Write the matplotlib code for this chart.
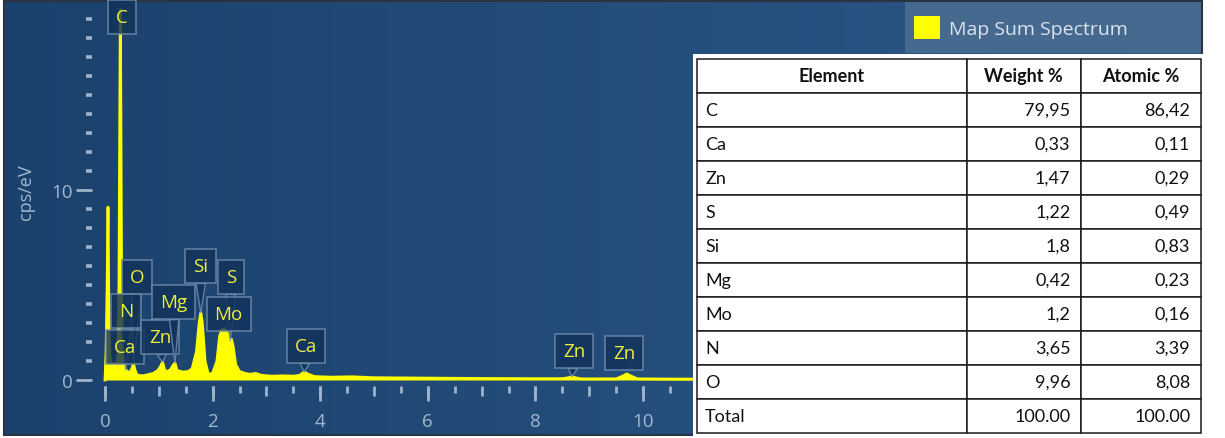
import numpy as np
import matplotlib.pyplot as plt
from matplotlib.patches import Patch, Rectangle

# EDS sum spectrum: energy (keV) vs intensity (cps/eV)
energy = [0.00, 0.02, 0.04, 0.056, 0.07, 0.09, 0.12, 0.16, 0.20, 0.24,
          0.26, 0.275, 0.285, 0.295, 0.31, 0.33, 0.36, 0.40, 0.45, 0.50,
          0.53, 0.56, 0.60, 0.70, 0.80, 0.90, 0.98, 1.03, 1.07, 1.11,
          1.16, 1.22, 1.26, 1.30, 1.34, 1.45, 1.55, 1.62, 1.70, 1.75,
          1.78, 1.81, 1.86, 1.92, 2.00, 2.08, 2.13, 2.17, 2.22, 2.27,
          2.31, 2.35, 2.38, 2.43, 2.50, 2.60, 2.70, 2.80, 2.90, 3.10,
          3.30, 3.50, 3.62, 3.70, 3.78, 3.90, 4.20, 4.60, 5.00, 6.00,
          7.00, 8.00, 8.50, 8.62, 8.68, 8.74, 8.85, 9.50, 9.62, 9.70,
          9.78, 9.90, 10.5, 12.0, 14.0, 17.0, 20.5]
cps = [0.0, 1.5, 5.0, 9.1, 4.0, 1.2, 0.7, 0.9, 0.6, 1.2,
       5.0, 14.0, 19.5, 14.0, 4.0, 1.0, 0.6, 0.5, 0.35, 0.6,
       0.85, 0.5, 0.25, 0.22, 0.28, 0.35, 0.5, 0.7, 0.95, 0.5,
       0.45, 0.55, 0.75, 0.9, 0.5, 0.42, 0.45, 0.6, 1.5, 3.0,
       3.55, 3.0, 1.0, 0.3, 0.35, 1.0, 2.3, 2.65, 2.7, 2.5,
       2.0, 2.15, 1.8, 0.8, 0.45, 0.35, 0.3, 0.35, 0.25, 0.2,
       0.22, 0.2, 0.25, 0.42, 0.3, 0.18, 0.15, 0.17, 0.12, 0.10,
       0.08, 0.07, 0.07, 0.12, 0.18, 0.12, 0.06, 0.06, 0.2, 0.32,
       0.2, 0.06, 0.05, 0.04, 0.04, 0.03, 0.03]

# peak markers: element, peak energy (keV)
peak_names = ['C', 'O', 'N', 'Ca', 'Zn', 'Mg', 'Si', 'S', 'Mo', 'Ca', 'Zn', 'Zn']
peak_energy = [0.285, 0.53, 0.39, 0.34, 1.07, 1.30, 1.78, 2.33, 2.24, 3.70, 8.68, 9.70]
# where each marker box sits (keV, cps/eV)
box_x = [0.316, 0.595, 0.39, 0.372, 1.02, 1.28, 1.78, 2.34, 2.30, 3.74, 8.72, 9.65]
box_y = [19.1, 5.42, 3.63, 1.74, 2.26, 4.10, 6.00, 5.42, 3.47, 1.79, 1.53, 1.42]

# quantification table
elements = ['C', 'Ca', 'Zn', 'S', 'Si', 'Mg', 'Mo', 'N', 'O', 'Total']
weight_pct = ['79,95', '0,33', '1,47', '1,22', '1,8', '0,42', '1,2', '3,65', '9,96', '100.00']
atomic_pct = ['86,42', '0,11', '0,29', '0,49', '0,83', '0,23', '0,16', '3,39', '8,08', '100.00']

W, H = 1225, 439
plt.rcParams['font.family'] = ['Open Sans', 'DejaVu Sans']

tick_c = '#9fb3ca'
label_c = '#a3b7cd'
yellow = '#ffff00'
box_fc = '#12335a'
box_ec = '#6f8aaa'


def px_rect(x0, y0, x1, y1):
    # pixel box (top-left origin) -> figure fraction rect
    return [x0 / W, (H - y1) / H, (x1 - x0) / W, (y1 - y0) / H]


fig = plt.figure(figsize=(W / 100, H / 100), dpi=100)
fig.patch.set_facecolor('white')

# dark blue panel with a soft horizontal gradient
ax_bg = fig.add_axes(px_rect(4, 2, 1202, 436))
grad = np.linspace(0, 1, 256).reshape(1, -1)
c0 = np.array([0x1b, 0x42, 0x6d]) / 255
c1 = np.array([0x2c, 0x58, 0x88]) / 255
img = c0 + (c1 - c0) * grad[..., None]
ax_bg.imshow(img, aspect='auto', extent=(0, 1, 0, 1))
ax_bg.set_xticks([])
ax_bg.set_yticks([])
for s in ax_bg.spines.values():
    s.set_color('#2a3340')
    s.set_linewidth(1.5)

# spectrum axes: 0 keV at x=105 px, 0 cps/eV at y=381 px
ax = fig.add_axes(px_rect(105, 3, 1195, 381))
ax.patch.set_visible(False)
ax.set_xlim(0, 1090 / 53.8)
ax.set_ylim(0, 378 / 19)

ax.fill_between(energy, cps, color=yellow, lw=0, zorder=2)
ax.plot(energy, cps, color=yellow, lw=2.0, zorder=2, clip_on=False)

for s in ax.spines.values():
    s.set_visible(False)
ax.spines['left'].set_position(('outward', 9.4))
ax.spines['bottom'].set_position(('outward', 4.3))

ax.set_yticks([0, 10])
ax.set_yticks(np.arange(1, 20), minor=True)
ax.tick_params(axis='y', which='major', length=11.5, width=2.0, color=tick_c,
               labelcolor=label_c, labelsize=13.5, pad=2)
ax.tick_params(axis='y', which='minor', length=4.3, width=2.6, color=tick_c)
ax.set_ylabel('cps/eV', color=label_c, fontsize=13, labelpad=12)

ax.set_xticks(np.arange(0, 21, 1))
ax.set_xticks(np.arange(0.5, 20.5, 1), minor=True)
ax.tick_params(axis='x', which='major', length=7.2, width=2.0, color=tick_c,
               labelbottom=False)
ax.tick_params(axis='x', which='minor', length=4.8, width=2.0, color=tick_c)

# long labelled ticks every 2 keV
ax2 = ax.twiny()
ax2.set_xlim(ax.get_xlim())
ax2.xaxis.tick_bottom()
for s in ax2.spines.values():
    s.set_visible(False)
ax2.spines['bottom'].set_position(('outward', 4.3))
ax2.set_xticks(np.arange(0, 21, 2))
ax2.tick_params(axis='x', which='major', length=10.8, width=2.0, color=tick_c,
                labelcolor=label_c, labelsize=13.5, pad=8)

# element markers
for name, e, bx, by in zip(peak_names, peak_energy, box_x, box_y):
    tip = float(np.interp(e, energy, cps))
    arrow = None
    if tip < by - 1.2:
        arrow = dict(arrowstyle='wedge,tail_width=0.5,shrink_factor=0.5',
                     fc=box_fc, ec=box_ec, lw=1.0, alpha=0.85,
                     shrinkA=0, shrinkB=0)
    ax.annotate(name, xy=(e, tip), xytext=(bx, by), textcoords='data',
                ha='center', va='center', fontsize=13.5, color='#eef03c',
                zorder=5, annotation_clip=False,
                bbox=dict(boxstyle='square,pad=0.42', fc=box_fc, ec=box_ec,
                          lw=1.2, alpha=0.82),
                arrowprops=arrow)

# legend
fig.patches.append(Rectangle((905 / W, (H - 54) / H), 296 / W, 51 / H,
                             transform=fig.transFigure, fc='#46698f', ec='none',
                             zorder=1))
fig.legend(handles=[Patch(facecolor=yellow, edgecolor='none')],
           labels=['Map Sum Spectrum'], loc='upper left',
           bbox_to_anchor=(914 / W, 1 - 17 / H), frameon=False,
           borderpad=0, borderaxespad=0, fontsize=14, labelcolor='#dce4ee',
           handlelength=1.35, handleheight=1.45, handletextpad=0.45)

# quantification table on a white card
ax_t = fig.add_axes(px_rect(693, 55, 1225, 439))
ax_t.set_facecolor('white')
ax_t.set_xticks([])
ax_t.set_yticks([])
for s in ax_t.spines.values():
    s.set_visible(False)

rows = [[el, w, a] for el, w, a in zip(elements, weight_pct, atomic_pct)]
tab = ax_t.table(cellText=rows, colLabels=['Element', 'Weight %', 'Atomic %'],
                 colWidths=[269, 114, 120],
                 bbox=[4 / 532, 5 / 384, 504 / 532, 374 / 384])
tab.auto_set_font_size(False)
tab.set_fontsize(13)
for (r, c), cell in tab.get_celld().items():
    cell.set_edgecolor('#1a1a1a')
    cell.set_linewidth(1.1)
    txt = cell.get_text()
    txt.set_fontfamily(['Lato', 'DejaVu Sans'])
    txt.set_color('#111111')
    if r == 0:
        txt.set_ha('center')
        txt.set_fontweight('bold')
    elif c == 0:
        txt.set_ha('left')
        cell.PAD = 0.03
    else:
        txt.set_ha('right')
        cell.PAD = 0.09

fig.savefig('out.png', dpi=100, facecolor='white')
